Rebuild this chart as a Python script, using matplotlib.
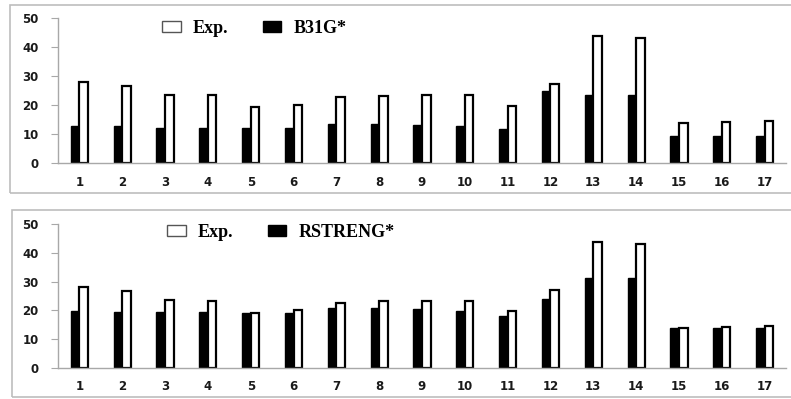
import numpy as np
import matplotlib
matplotlib.use('Agg')
import matplotlib.pyplot as plt
from matplotlib.patches import Rectangle

cases = [str(i) for i in range(1, 18)]
exp_vals = [28.0, 26.6, 23.5, 23.3, 19.2, 20.0, 22.7, 23.1, 23.3, 23.3,
            19.7, 27.2, 43.8, 43.2, 13.9, 14.3, 14.6]
b31g_vals = [12.6, 12.6, 12.2, 12.2, 12.2, 12.2, 13.4, 13.4, 13.0, 12.6,
             11.6, 24.9, 23.6, 23.6, 9.3, 9.3, 9.3]
rstreng_vals = [19.7, 19.4, 19.4, 19.4, 19.1, 19.1, 20.9, 20.9, 20.6, 19.7,
                18.2, 23.8, 31.3, 31.3, 13.9, 14.0, 14.0]

W, H = 791, 399
fig = plt.figure(figsize=(W / 100, H / 100), dpi=100)

def px_box(x0, y0, x1, y1):
    # pixel box (top-left origin) -> figure fraction [left, bottom, width, height]
    return [x0 / W, 1 - y1 / H, (x1 - x0) / W, (y1 - y0) / H]

def draw_panel(ax_rect, model_vals, model_name, legend_xy):
    ax = fig.add_axes(px_box(*ax_rect))
    x = np.arange(1, len(cases) + 1)
    w = 0.2
    b_mod = ax.bar(x - w / 2, model_vals, w, color='black', edgecolor='black',
                   linewidth=1.0, label=model_name)
    b_exp = ax.bar(x + w / 2, exp_vals, w, color='white', edgecolor='black',
                   linewidth=1.6, label='Exp.')
    ax.set_xlim(0.5, 17.5)
    ax.set_ylim(0, 50)
    ax.set_yticks([0, 10, 20, 30, 40, 50])
    ax.set_xticks(x)
    ax.set_xticklabels(cases)
    for s in ['top', 'right']:
        ax.spines[s].set_visible(False)
    for s in ['left', 'bottom']:
        ax.spines[s].set_color('#a8a8a8')
        ax.spines[s].set_linewidth(1.0)
    ax.tick_params(axis='y', length=5, color='#a8a8a8', pad=9)
    ax.tick_params(axis='x', length=0, pad=9)
    for lab in ax.get_xticklabels() + ax.get_yticklabels():
        lab.set_fontsize(8.5)
        lab.set_fontweight('bold')
        lab.set_color('#1a1a1a')
    leg = ax.legend([b_exp, b_mod], ['Exp.', model_name], ncol=2,
                    loc='center left', frameon=False, borderpad=0,
                    borderaxespad=0,
                    bbox_to_anchor=(legend_xy[0] / W, 1 - legend_xy[1] / H),
                    bbox_transform=fig.transFigure,
                    handlelength=1.05, handleheight=0.6, handletextpad=0.65,
                    columnspacing=1.9,
                    prop={'family': 'Liberation Serif', 'weight': 'bold', 'size': 13})
    leg.legend_handles[0].set_edgecolor('#555555')
    leg.legend_handles[0].set_linewidth(1.0)
    return ax

# outer frames around each panel
fig.patches.append(Rectangle((10 / W, 1 - 193 / H), 800 / W, 188 / H,
                             transform=fig.transFigure, fill=False,
                             edgecolor='#bdbdbd', linewidth=1.2))
fig.patches.append(Rectangle((12 / W, 1 - 397 / H), 800 / W, 187 / H,
                             transform=fig.transFigure, fill=False,
                             edgecolor='#bdbdbd', linewidth=1.2))

draw_panel((58, 18, 786, 163), b31g_vals, 'B31G*', (162, 28.5))
draw_panel((58, 224, 786, 368), rstreng_vals, 'RSTRENG*', (167, 232.5))

fig.savefig('out.png', dpi=100)
